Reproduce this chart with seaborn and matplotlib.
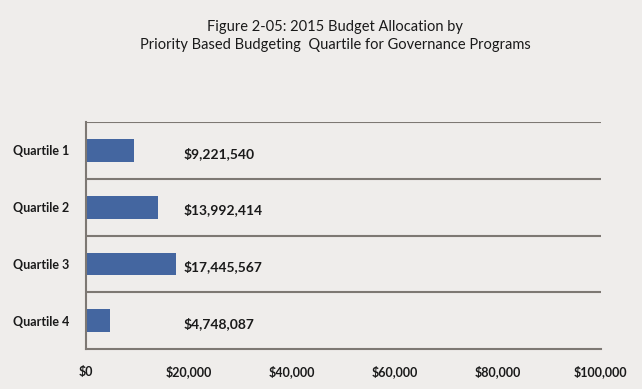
import seaborn as sns
import numpy as np
import matplotlib.pyplot as plt
import matplotlib.ticker as ticker

# values in thousands of dollars (axis is labelled $0 .. $100,000)
quartiles = ['Quartile 1', 'Quartile 2', 'Quartile 3', 'Quartile 4']
budget_k = [9221.540, 13992.414, 17445.567, 4748.087]
labels = ['$9,221,540', '$13,992,414', '$17,445,567', '$4,748,087']
xticks = [0, 20000, 40000, 60000, 80000, 100000]
xticklabels = ['$0', '$20,000', '$40,000', '$60,000', '$80,000', '$100,000']

BG = '#efedeb'
BAR = '#4466a0'
LINE = '#7d7873'

sns.set_style('white')
plt.rcParams['font.family'] = ['Lato', 'DejaVu Sans']

fig, ax = plt.subplots(figsize=(6.42, 3.89), dpi=100)
fig.patch.set_facecolor(BG)
ax.set_facecolor(BG)
fig.subplots_adjust(left=0.134, right=0.936, top=0.686, bottom=0.103)

sns.barplot(x=budget_k, y=quartiles, orient='h', color=BAR, width=0.4,
            saturation=1, linewidth=0, ax=ax)

for i, lab in enumerate(labels):
    ax.text(19000, i + 0.05, lab, va='center', ha='left', fontsize=10,
            fontweight='bold', color='#1a1a1a')

ax.set_xlim(0, 100000)
ax.set_ylim(3.5, -0.5)
ax.set_xticks(xticks)
ax.set_xticklabels(xticklabels, fontsize=9, fontweight='bold', color='#1a1a1a')
ax.set_yticks(range(len(quartiles)))
ax.set_yticklabels(quartiles, fontsize=9, fontweight='bold', color='#1a1a1a')
ax.set_xlabel('')
ax.set_ylabel('')

# separator lines between categories
ax.yaxis.set_minor_locator(ticker.FixedLocator([-0.5, 0.5, 1.5, 2.5]))
ax.grid(which='minor', axis='y', color=LINE, linewidth=1.5)
ax.set_axisbelow(True)

ax.tick_params(axis='y', which='both', length=0, pad=12)
ax.tick_params(axis='x', length=4, width=1.2, color=LINE, pad=8)

for side in ['top', 'right']:
    ax.spines[side].set_visible(False)
for side in ['left', 'bottom']:
    ax.spines[side].set_color(LINE)
    ax.spines[side].set_linewidth(1.5)

fig.text(0.522, 0.93, 'Figure 2-05: 2015 Budget Allocation by',
         ha='center', va='center', fontsize=10.5, color='#1a1a1a')
fig.text(0.522, 0.884, 'Priority Based Budgeting  Quartile for Governance Programs',
         ha='center', va='center', fontsize=10.5, color='#1a1a1a')

plt.savefig('out.png', dpi=100, facecolor=BG)
